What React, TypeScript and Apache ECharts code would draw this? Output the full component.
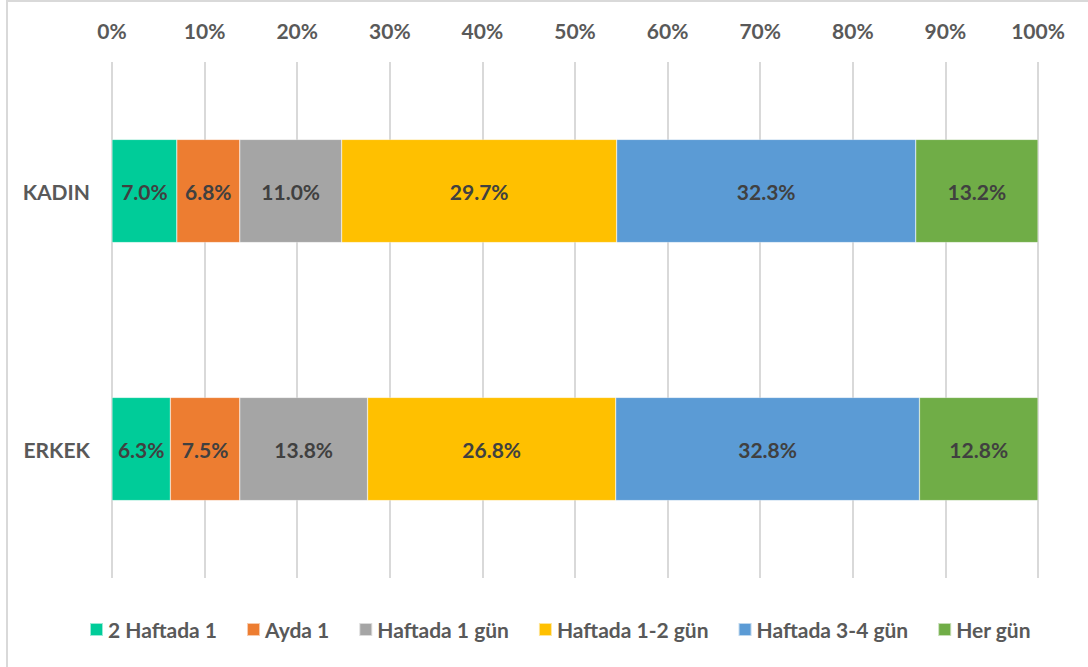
import React, { useEffect, useRef } from "react";
import * as echarts from "echarts";

const categories = ["KADIN", "ERKEK"];
const seriesNames = ["2 Haftada 1", "Ayda 1", "Haftada 1 gün", "Haftada 1-2 gün", "Haftada 3-4 gün", "Her gün"];
const kadinValues = [7.0, 6.8, 11.0, 29.7, 32.3, 13.2];
const erkekValues = [6.3, 7.5, 13.8, 26.8, 32.8, 12.8];
const colors = ["#00CC99", "#ED7D31", "#A5A5A5", "#FFC000", "#5B9BD5", "#70AD47"];
const axisTicks = [0, 10, 20, 30, 40, 50, 60, 70, 80, 90, 100];

const FONT = "Lato, 'Open Sans', sans-serif";
const FS = 21;

export default function App() {
  const ref = useRef<HTMLDivElement>(null);
  useEffect(() => {
    if (!ref.current) return;
    const chart = echarts.init(ref.current, null, { renderer: "svg" });
    chart.setOption({
      animation: false,
      backgroundColor: "#ffffff",
      textStyle: { fontFamily: FONT },
      graphic: [
        {
          type: "rect",
          shape: { x: 7, y: 1, width: 1100, height: 700 },
          style: { fill: "none", stroke: "#D9D9D9", lineWidth: 2 },
          silent: true,
          z: 0,
        },
      ],
      grid: { left: 112, right: 50, top: 62, bottom: 89, containLabel: false },
      legend: {
        bottom: 22,
        left: 84,
        itemWidth: 13,
        itemHeight: 13,
        itemGap: 29,
        icon: "rect",
        textStyle: { fontFamily: FONT, fontSize: FS, fontWeight: "bold", color: "#595959" },
        data: seriesNames,
      },
      xAxis: {
        type: "value",
        position: "top",
        min: axisTicks[0],
        max: axisTicks[axisTicks.length - 1],
        interval: 10,
        axisLine: { show: false },
        axisTick: { show: false },
        splitLine: { show: true, lineStyle: { color: "#D9D9D9", width: 2 } },
        axisLabel: {
          formatter: "{value}%",
          fontFamily: FONT,
          fontSize: FS,
          fontWeight: "bold",
          color: "#595959",
          margin: 21,
        },
      },
      yAxis: {
        type: "category",
        inverse: true,
        data: categories,
        axisLine: { show: false },
        axisTick: { show: false },
        axisLabel: {
          fontFamily: FONT,
          fontSize: FS,
          fontWeight: "bold",
          color: "#595959",
          margin: 22,
        },
      },
      series: seriesNames.map((name, i) => ({
        name,
        type: "bar",
        stack: "total",
        barWidth: "40%",
        data: [kadinValues[i], erkekValues[i]],
        itemStyle: { color: colors[i], borderColor: "rgba(255,255,255,0.6)", borderWidth: 0.5 },
        label: {
          show: true,
          position: "inside",
          formatter: (p: any) => p.value.toFixed(1) + "%",
          fontFamily: FONT,
          fontSize: FS,
          fontWeight: "bold",
          color: "#404040",
        },
      })),
    });
    return () => chart.dispose();
  }, []);
  return (
    <div
      ref={ref}
      style={{ position: "fixed", left: 0, top: 0, width: 1088, height: 667 }}
    />
  );
}
